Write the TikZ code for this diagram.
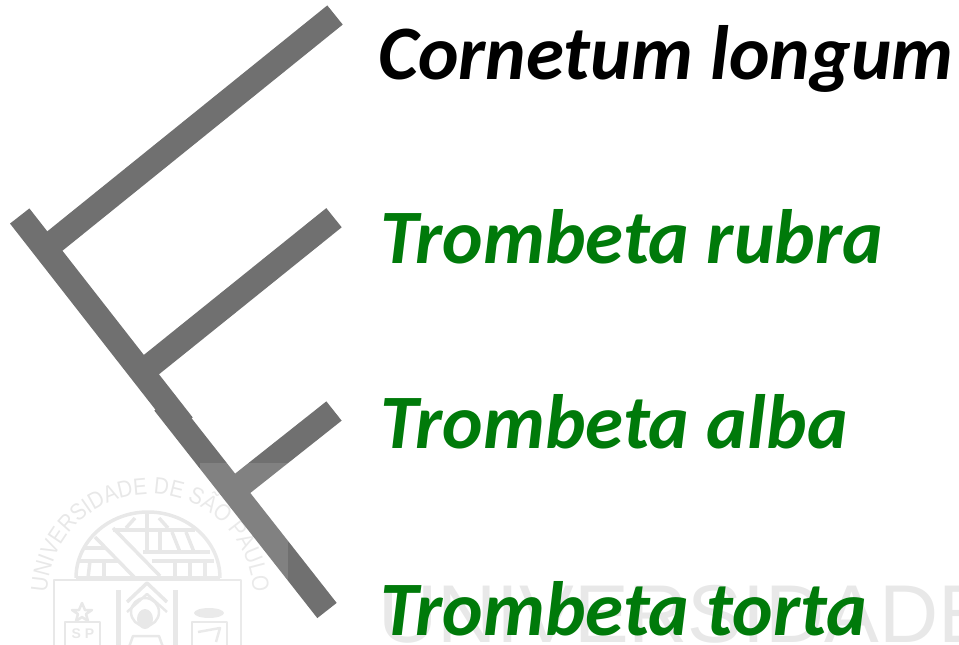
\documentclass[tikz,border=0pt]{standalone}
\usepackage{fontspec}
\setmainfont{Carlito}
\newfontfamily\wmfont{Liberation Sans}
\newfontfamily\arcfont[FakeStretch=0.88]{Liberation Sans}
\usetikzlibrary{decorations.text}
\definecolor{branchgray}{HTML}{707070}
\definecolor{leafgreen}{HTML}{007A0A}
\definecolor{wm}{HTML}{E8E8E8}
\tikzset{
  x=1pt,y=-1pt,
  branch/.style={draw=branchgray,line width=24.6pt,line cap=butt},
  taxon/.style={anchor=base west,inner sep=0pt,font=\fontsize{77}{77}\selectfont\bfseries\itshape},
  seal/.style={draw=wm,line width=3.5pt,line join=round},
  sealthin/.style={draw=wm,line width=2.5pt,line join=round},
}
\begin{document}
\begin{tikzpicture}
\useasboundingbox (0,0) rectangle (959,645);
\begin{scope}
\clip (0,0) rectangle (959,645);
% watermark
\node[anchor=base west,inner sep=0pt,text=wm,font=\wmfont\fontsize{82}{82}\selectfont] (wmtext) at (378,642) {UNIVERSIDADE};
\path[postaction={decorate,decoration={text along path,text align=center,
  text={|\arcfont\fontsize{23.5}{23.5}\selectfont\color{wm}|UNIVERSIDADE DE SÃO PAULO}}}]
  (47,597) arc[start angle=180,end angle=360,radius=103];
% dome
\draw[seal] (76,578) arc[start angle=180,end angle=360,x radius=72,y radius=66];
\draw[seal] (76,578) -- (220,578);
\draw[seal] (95,537) -- (135,578);
\draw[seal] (113,528) -- (160,576);
\draw[seal] (113,530) -- (195,530);
\draw[seal] (143,552) -- (210,552);
\draw[seal] (152,561) -- (214,561);
\draw[seal] (147,512) -- (147,530);
\draw[seal] (135,518) -- (126,528);
\draw[seal] (159,518) -- (168,528);
\draw[seal] (147,532) -- (147,552);
\draw[seal] (160,532) -- (160,552);
\draw[seal] (172,532) -- (180,552);
\draw[seal] (186,532) -- (194,552);
\draw[seal] (175,561) -- (175,578);
\draw[seal] (190,561) -- (190,578);
\draw[seal] (205,561) -- (205,578);
\draw[seal] (85,548) -- (105,548);
\draw[seal] (80,561) -- (118,561);
\draw[seal] (90,561) -- (88,578);
\draw[seal] (104,561) -- (104,578);
% shield and figures
\draw[sealthin] (54,650) -- (54,580) -- (241,580) -- (241,650);
\draw[sealthin] (65,650) -- (65,622) -- (100,622) -- (100,650);
\draw[sealthin] (82,603) -- (85,610) -- (92,610) -- (86,614) -- (88,621) -- (82,617) -- (76,621) -- (78,614) -- (72,610) -- (79,610) -- cycle;
\node[text=wm,inner sep=0pt,font=\wmfont\bfseries\fontsize{14}{14}\selectfont] (sp) at (83,634) {S P};
\draw[seal,line width=5pt] (118,650) -- (118,590);
\draw[seal,line width=5pt] (175,650) -- (175,590);
\draw[seal] (127,602) -- (147,583) -- (167,602);
\draw[sealthin] (127,612) -- (147,594) -- (167,612);
\draw[sealthin] (145,612) circle[radius=14];
\fill[wm] (145,619) ellipse[x radius=8,y radius=10];
\draw[sealthin] (128,650) -- (133,636) -- (159,636) -- (164,650);
\draw[sealthin] (192,650) -- (192,622) -- (227,622) -- (227,650);
\fill[wm] (209,613) ellipse[x radius=15,y radius=5];
\draw[sealthin] (198,632) -- (220,628) -- (216,642);
\end{scope}
% tree
\coordinate (root) at (19.7,216);
\coordinate (midA) at (183,425);
\coordinate (midB) at (164,403);
\coordinate (tip4) at (327,610.5);
\coordinate (tip1) at (335,15);
\coordinate (tip2) at (334,217.7);
\coordinate (tip3) at (334,411);
\coordinate (j1) at (45,249);
\coordinate (j2) at (141,373);
\coordinate (j3) at (233,491);
\draw[branch] (root) -- (midA);
\draw[branch] (midB) -- (tip4);
\draw[branch] (j1) -- (tip1);
\draw[branch] (j2) -- (tip2);
\draw[branch] (j3) -- (tip3);
% washed part of the watermark
\fill[white,fill opacity=.12] (200,463) rectangle (288,645);
% labels
\node[taxon,text=black] (t1) at (378,79) {Cornetum longum};
\node[taxon,text=leafgreen] (t2) at (380,263) {Trombeta rubra};
\node[taxon,text=leafgreen] (t3) at (380,448) {Trombeta alba};
\node[taxon,text=leafgreen] (t4) at (380,635) {Trombeta torta};
\end{tikzpicture}
\end{document}
